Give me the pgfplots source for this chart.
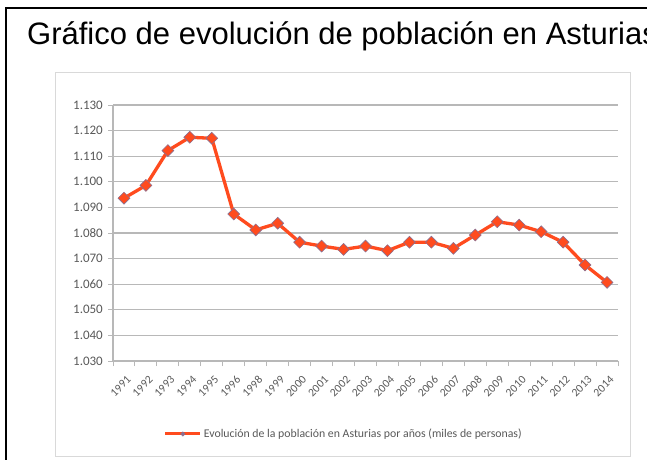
\documentclass[border=0pt]{standalone}
\usepackage{pgfplots}
\pgfplotsset{compat=1.18}
\usepackage{fontspec}
\setmainfont{Liberation Sans}
\newfontfamily\carlito{Carlito}
\definecolor{serie}{HTML}{FF4B1E}
\definecolor{gridc}{HTML}{B8B8B8}
\definecolor{tickc}{HTML}{595959}
\definecolor{boxc}{HTML}{D9D9D9}
\definecolor{markc}{HTML}{8C6F90}
\pgfplotstableread{
i year val
0 1991 1093.6
1 1992 1098.6
2 1993 1112.2
3 1994 1117.4
4 1995 1117.0
5 1996 1087.4
6 1998 1081.2
7 1999 1083.8
8 2000 1076.4
9 2001 1074.9
10 2002 1073.6
11 2003 1074.9
12 2004 1073.1
13 2005 1076.4
14 2006 1076.4
15 2007 1074.0
16 2008 1079.2
17 2009 1084.4
18 2010 1083.1
19 2011 1080.5
20 2012 1076.4
21 2013 1067.5
22 2014 1060.7
}\datatable
\begin{document}
\begin{tikzpicture}
\useasboundingbox (0pt,0pt) rectangle (647pt,459pt);
\clip (0pt,0pt) rectangle (647pt,459pt);
\fill[white] (0pt,0pt) rectangle (647pt,459pt);
% outer frame (top and left visible)
\draw[black, line width=1.5pt] (6pt,-5pt) -- (6pt,451pt) -- (660pt,451pt);
% title
\node[anchor=base west, inner sep=0pt, font=\fontsize{31}{35}\selectfont] at (27pt,414pt) {Gráfico de evolución de población en Asturias};
% inner chart box
\draw[boxc, line width=1pt] (55pt,3pt) rectangle (630pt,387pt);
\begin{axis}[
  at={(113pt,98pt)}, anchor=south west,
  scale only axis, width=505pt, height=256pt,
  xmin=-0.5, xmax=22.5, ymin=1030, ymax=1130,
  axis lines*=left,
  axis line style={gridc, line width=1.2pt},
  ymajorgrids, grid style={gridc, line width=1.2pt},
  ytick={1030,1040,...,1130},
  yticklabels={1.030,1.040,1.050,1.060,1.070,1.080,1.090,1.100,1.110,1.120,1.130},
  xtick={-0.5,0.5,...,22.5},
  xticklabels={},
  tick align=outside, major tick length=5pt,
  tick style={gridc, line width=1pt},
  extra x ticks={0,...,22},
  extra x tick labels={1991,1992,1993,1994,1995,1996,1998,1999,2000,2001,2002,2003,2004,2005,2006,2007,2008,2009,2010,2011,2012,2013,2014},
  extra x tick style={major tick length=0pt, grid=none,
     xticklabel style={rotate=45, anchor=east, inner sep=0pt, xshift=-8.5pt, yshift=-15.5pt}},
  yticklabel style={font=\carlito\fontsize{13}{15}\selectfont, text=tickc, inner sep=0pt, xshift=-5pt},
  xticklabel style={font=\carlito\fontsize{11.5}{14}\selectfont, text=tickc},
  legend style={at={(0.457,-0.285)}, anchor=center, draw=none, fill=none,
     font=\carlito\fontsize{11.8}{14}\selectfont, text=tickc, inner sep=0pt},
  legend cell align=left,
  legend image code/.code={
    \draw[serie, line width=3pt] (0pt,0pt) -- (35pt,0pt);
    \draw[markc, fill=markc, line width=0.4pt] plot[mark=square*, mark size=1.6pt, mark options={rotate=45}] coordinates {(17.5pt,0pt)};
  },
]
\addplot[serie, line width=3.3pt, mark=square*, mark size=4.2pt,
  mark options={rotate=45, fill=serie, draw=markc, line width=0.6pt}]
  table[x=i, y=val] {\datatable};
\addlegendentry{Evolución de la población en Asturias por años (miles de personas)}
\end{axis}
\end{tikzpicture}
\end{document}
